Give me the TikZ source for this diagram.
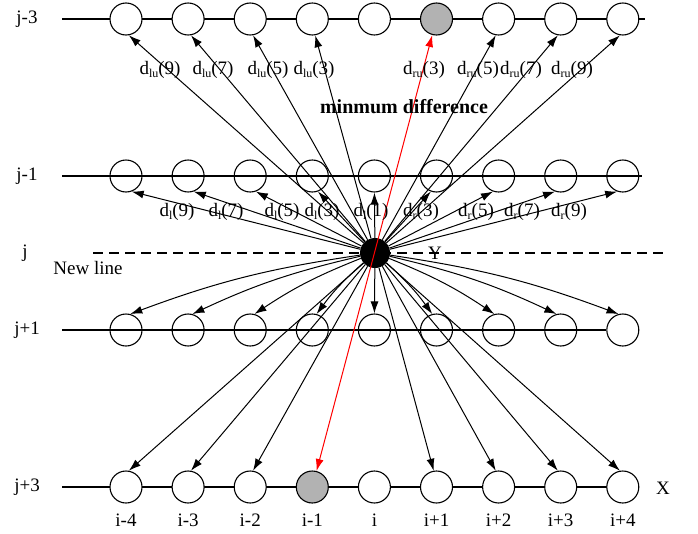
\documentclass[tikz,border=0pt]{standalone}
\usepackage{fontspec}
\setmainfont{Liberation Serif}
\usetikzlibrary{arrows.meta}
\tikzset{
    cell/.style={circle, draw, line width=1.1pt, minimum size=32pt, inner sep=0pt},
    opencell/.style={cell, fill=white},
    hitcell/.style={cell, fill=gray!60},
    ray/.style={-{Latex[length=12pt,width=8pt]}, line width=1pt},
    bestray/.style={{Latex[length=12pt,width=8pt]}-{Latex[length=12pt,width=8pt]},
        line width=1pt, red},
    rowline/.style={line width=1.4pt},
    newline/.style={line width=1.3pt, dash pattern=on 10pt off 6pt},
    lab/.style={inner sep=0pt}
}
\newcommand\dsub[1]{\raisebox{-0.35ex}{\fontsize{12}{12}\selectfont #1}}

\begin{document}
\begin{tikzpicture}[x=1pt, y=-1pt, font=\fontsize{19}{22}\selectfont]
    \useasboundingbox (0,0) rectangle (698,533);
    % row lines
    \coordinate (uw) at (62,19);  \coordinate (ue) at (645,19);
    \coordinate (mw) at (62,176); \coordinate (me) at (642,176);
    \coordinate (jw) at (93,253); \coordinate (je) at (665,253);
    \coordinate (pw) at (62,330);
    \coordinate (bw) at (62,487);
    \draw[rowline] (uw) -- (ue);
    \draw[rowline] (mw) -- (me);
    \draw[newline] (jw) -- (je);
    % cells of rows j-3, j-1, j+1, j+3
    \foreach \k in {0,...,8} {
        \ifnum\k=5 \def\st{hitcell}\else\def\st{opencell}\fi
        \node[\st] (u\k) at (126+62.1*\k,19) {};
        \node[cell] (m\k) at (126+62.1*\k,176) {};
        \node[cell] (p\k) at (126+62.1*\k,330) {};
    }
    \draw[rowline] (pw) -- (p8.west);
    \draw[rowline] (bw) -- (126+62.1*8,487);
    \foreach \k in {0,...,8} {
        \ifnum\k=3 \def\st{hitcell}\else\def\st{opencell}\fi
        \node[\st] (b\k) at (126+62.1*\k,487) {};
    }
    \node[circle, fill=black, minimum size=30pt, inner sep=0pt] (c) at (375,253) {};
    % rays to row j-3
    \foreach \k in {0,...,3} \draw[ray] (c) -- (u\k.280);
    \foreach \k in {6,7,8} \draw[ray] (c) -- (u\k.260);
    % rays to row j-1
    \foreach \k in {0,...,3} \draw[ray] (c) -- (m\k.290);
    \draw[ray] (c) -- (m4.south);
    \foreach \k in {5,...,8} \draw[ray] (c) -- (m\k.250);
    % rays to row j+1
    \foreach \k in {0,...,3} \draw[ray] (c) to[bend right=6] (p\k.75);
    \draw[ray] (c) -- (p4.north);
    \foreach \k in {5,...,8} \draw[ray] (c) to[bend left=6] (p\k.105);
    % rays to row j+3
    \foreach \k in {0,1,2} \draw[ray] (c) -- (b\k.80);
    \foreach \k in {5,...,8} \draw[ray] (c) -- (b\k.100);
    \draw[bestray] (b3) -- (u5);
    % row and column names
    \node[lab] (rj3) at (27,19) {j-3};
    \node[lab] (rj1) at (27,176) {j-1};
    \node[lab] (rj) at (25,253) {j};
    \node[lab] (rp1) at (27,330) {j+1};
    \node[lab] (rp3) at (27,487) {j+3};
    \node[lab] (nl) at (88,268) {New line};
    \node[lab] (ax) at (663,488) {X};
    \node[lab] (ay) at (435,253) {Y};
    \foreach \k/\t in {0/i-4,1/i-3,2/i-2,3/i-1,4/i,5/i+1,6/i+2,7/i+3,8/i+4}
        \node[lab] (c\k) at (126+62.1*\k,520) {\t};
    % difference labels
    \foreach \x/\n in {160/9,213/7,268/5,314/3}
        \node[lab] (lu\n) at (\x,70) {d\dsub{lu}(\n)};
    \foreach \x/\n in {424/3,478/5,521/7,572/9}
        \node[lab] (ru\n) at (\x,70) {d\dsub{ru}(\n)};
    \foreach \x/\n in {177/9,226/7,282/5,322/3,371/1}
        \node[lab] (l\n) at (\x,212) {d\dsub{l}(\n)};
    \foreach \x/\n in {421/3,476/5,522/7,569/9}
        \node[lab] (r\n) at (\x,212) {d\dsub{r}(\n)};
    \node[lab, font=\fontsize{20}{22}\selectfont\bfseries] (md) at (404,107) {minmum difference};
\end{tikzpicture}
\end{document}
